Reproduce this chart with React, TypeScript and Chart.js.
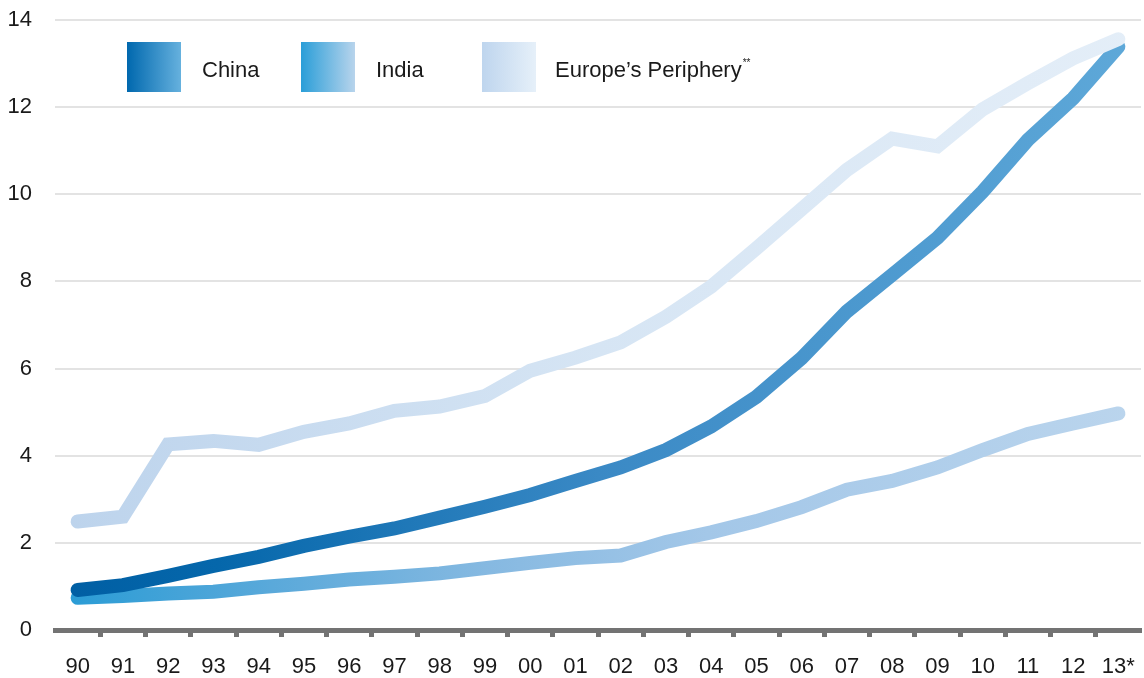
import React, { useEffect, useRef } from "react";
import { Chart, registerables } from "chart.js";

Chart.register(...registerables);

// Year labels along the x axis
const years = [
  "90", "91", "92", "93", "94", "95", "96", "97", "98", "99", "00", "01",
  "02", "03", "04", "05", "06", "07", "08", "09", "10", "11", "12", "13*",
];

// Series values
const china = [
  0.92, 1.03, 1.24, 1.47, 1.68, 1.93, 2.14, 2.33, 2.58, 2.83, 3.1, 3.42,
  3.73, 4.13, 4.67, 5.35, 6.24, 7.31, 8.15, 9.0, 10.06, 11.25, 12.2, 13.39,
];
const india = [
  0.74, 0.78, 0.84, 0.88, 0.98, 1.06, 1.16, 1.22, 1.3, 1.42, 1.54, 1.65,
  1.71, 2.02, 2.24, 2.5, 2.82, 3.22, 3.42, 3.73, 4.13, 4.5, 4.74, 4.97,
];
const periphery = [
  2.49, 2.6, 4.26, 4.34, 4.25, 4.55, 4.74, 5.03, 5.13, 5.37, 5.95, 6.25,
  6.6, 7.19, 7.88, 8.76, 9.66, 10.56, 11.28, 11.1, 11.95, 12.55, 13.12, 13.56,
];

const FONT = "'Liberation Sans', Arial, Helvetica, sans-serif";

type Stop = [number, string];

const chinaStops: Stop[] = [
  [0, "#005ea3"],
  [0.15, "#0567ab"],
  [0.5, "#3a89c5"],
  [1, "#5fa9d9"],
];
const indiaStops: Stop[] = [
  [0, "#279bd5"],
  [0.2, "#5aa9da"],
  [0.4, "#86b9e1"],
  [0.6, "#a3c7e8"],
  [1, "#bbd5ed"],
];
const peripheryStops: Stop[] = [
  [0, "#bcd3ec"],
  [0.5, "#d6e5f4"],
  [1, "#e4eef8"],
];

function horizontalGradient(stops: Stop[]) {
  return (ctx: any) => {
    const chart = ctx.chart;
    const area = chart.chartArea;
    if (!area) return stops[0][1];
    const g = chart.ctx.createLinearGradient(area.left, 0, area.right, 0);
    stops.forEach(([o, c]) => g.addColorStop(o, c));
    return g;
  };
}

function cssGradient(from: string, to: string) {
  return `linear-gradient(to right, ${from}, ${to})`;
}

const legendItems = [
  { label: "China", left: 127, textLeft: 202, bg: cssGradient("#0068ae", "#66b1de") },
  { label: "India", left: 301, textLeft: 376, bg: cssGradient("#2a9ed8", "#b8d4ec") },
  { label: "Europe’s Periphery", left: 482, textLeft: 555, bg: cssGradient("#bed5ee", "#e6f0f9"), sup: "**" },
];

export default function App() {
  const canvasRef = useRef<HTMLCanvasElement | null>(null);

  useEffect(() => {
    if (!canvasRef.current) return;
    const lineCommon = {
      borderWidth: 14,
      pointRadius: 0,
      pointHoverRadius: 0,
      tension: 0,
      fill: false,
      borderCapStyle: "round" as const,
      borderJoinStyle: "miter" as const,
    };
    const chart = new Chart(canvasRef.current, {
      type: "line",
      data: {
        labels: years,
        datasets: [
          { label: "Europe’s Periphery", data: periphery, borderColor: horizontalGradient(peripheryStops), ...lineCommon },
          { label: "China", data: china, borderColor: horizontalGradient(chinaStops), ...lineCommon },
          { label: "India", data: india, borderColor: horizontalGradient(indiaStops), ...lineCommon },
        ],
      },
      options: {
        animation: false,
        responsive: true,
        maintainAspectRatio: false,
        layout: { padding: { top: 20, right: 3, left: 0, bottom: 0 } },
        plugins: { legend: { display: false }, tooltip: { enabled: false } },
        events: [],
        scales: {
          x: {
            type: "category",
            offset: true,
            grid: {
              offset: true,
              drawOnChartArea: false,
              drawTicks: true,
              tickLength: 7,
              tickWidth: 5,
              tickColor: (c: any) =>
                c.index === 0 || c.index === undefined ? "rgba(0,0,0,0)" : "#737373",
            },
            border: { display: true, color: "#737373", width: 5 },
            ticks: {
              color: "#1a1a1a",
              font: { family: FONT, size: 22 },
              padding: 17,
              maxRotation: 0,
              autoSkip: false,
            },
            afterFit: (s: any) => {
              s.height = 48;
              s.paddingLeft = 0;
              s.paddingRight = 0;
            },
          },
          y: {
            min: 0,
            max: 14,
            ticks: {
              stepSize: 2,
              color: "#1a1a1a",
              font: { family: FONT, size: 22 },
              padding: 23,
            },
            grid: { color: "#e3e3e3", lineWidth: 2, drawTicks: false },
            border: { display: false },
            afterFit: (s: any) => {
              s.width = 55;
              s.paddingTop = 0;
              s.paddingBottom = 0;
            },
          },
        },
      },
    });
    return () => chart.destroy();
  }, []);

  return (
    <div style={{ position: "absolute", left: 0, top: 0, width: 1144, height: 678, background: "#fff" }}>
      <canvas ref={canvasRef} />
      {legendItems.map((it) => (
        <React.Fragment key={it.label}>
          <div
            style={{
              position: "absolute",
              left: it.left,
              top: 42,
              width: 54,
              height: 50,
              background: it.bg,
            }}
          />
          <div
            style={{
              position: "absolute",
              left: it.textLeft,
              top: 56,
              fontFamily: FONT,
              fontSize: 22,
              lineHeight: "28px",
              color: "#1a1a1a",
              whiteSpace: "nowrap",
            }}
          >
            {it.label}
            {it.sup ? (
              <span style={{ fontSize: 10, position: "relative", top: -11, marginLeft: 1 }}>{it.sup}</span>
            ) : null}
          </div>
        </React.Fragment>
      ))}
    </div>
  );
}
